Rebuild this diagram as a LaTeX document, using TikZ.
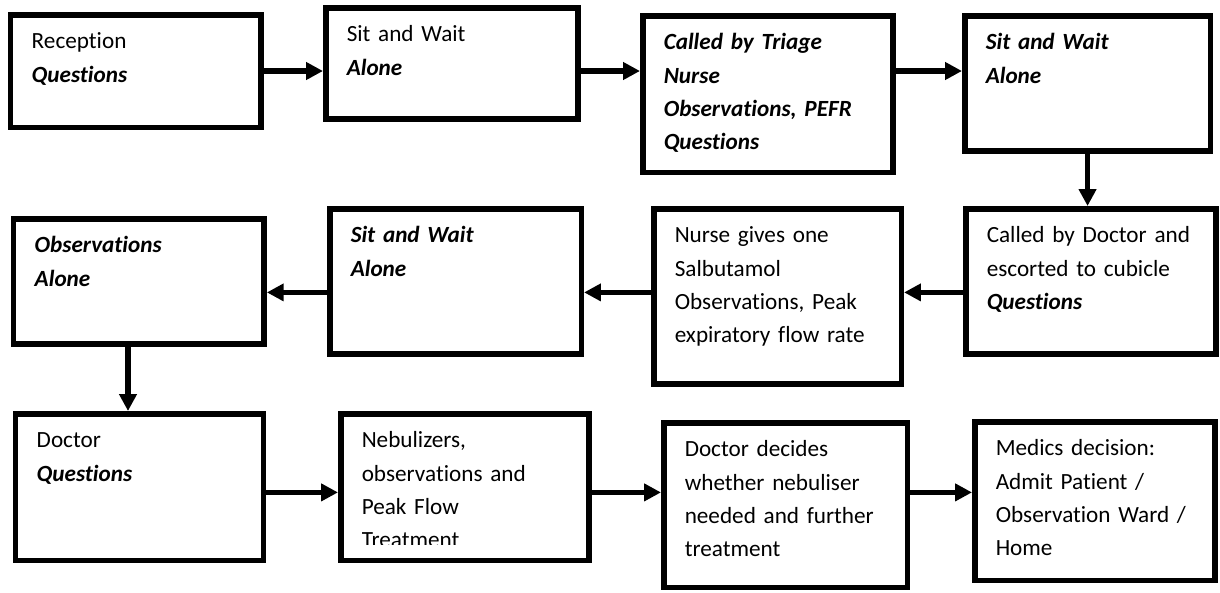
\documentclass[tikz,border=0pt]{standalone}
\usepackage{fontspec}
\setmainfont{Carlito}[Ligatures=NoCommon]
\usetikzlibrary{arrows.meta}
\newcommand{\bi}[1]{\textbf{\textit{#1}}}

\begin{document}
\begin{tikzpicture}[>={Triangle[length=0.42cm, width=0.42cm]},
      blk/.style={draw, line width=0.1375cm, anchor=north west, align=left,
        inner xsep=0.525cm, inner ysep=0pt, text height=0.856cm,
        font=\fontsize{16.5}{23.7}\selectfont},
      arr/.style={->, line width=0.13cm}]

    \useasboundingbox (0, 0) rectangle (30.5, -14.8);

    % row 1: left to right
    \node[blk, text width=5.21cm, text depth=1.96cm] (rec)    at (0.2, -0.3)     {Reception\\\bi{Questions}};
    \node[blk, text width=5.26cm, text depth=1.93cm] (sit1)   at (8.075, -0.125) {Sit and Wait\\\bi{Alone}};
    \node[blk, text width=5.21cm, text depth=3.06cm] (triage) at (16, -0.325)    {\bi{Called by Triage}\\\bi{Nurse}\\\bi{Observations, PEFR}\\\bi{Questions}};
    \node[blk, text width=5.09cm, text depth=2.53cm] (sit2)   at (24.05, -0.325) {\bi{Sit and Wait}\\\bi{Alone}};

    % row 2: right to left
    \node[blk, text width=5.21cm, text depth=2.78cm] (calldoc) at (24.075, -5.15) {Called by Doctor and\\escorted to cubicle\\\bi{Questions}};
    \node[blk, text width=5.14cm, text depth=3.53cm] (nurse)   at (16.275, -5.15) {Nurse gives one\\Salbutamol\\Observations, Peak\\expiratory flow rate};
    \node[blk, text width=5.24cm, text depth=2.78cm] (sit3)    at (8.175, -5.15)  {\bi{Sit and Wait}\\\bi{Alone}};
    \node[blk, text width=5.21cm, text depth=2.28cm] (obs)     at (0.275, -5.4)   {\bi{Observations}\\\bi{Alone}};

    % row 3: left to right
    \node[blk, text width=5.14cm, text depth=2.81cm] (doc) at (0.325, -10.275) {Doctor\\\bi{Questions}};
    \begin{scope}
      \clip (8, -9.5) rectangle (15.5, -13.62);
      \node[blk, text width=5.16cm, text depth=2.81cm] (neb) at (8.45, -10.275) {Nebulizers,\\observations and\\Peak Flow\\Treatment};
    \end{scope}
    % last line is cut off, put the frame back
    \draw[line width=0.1375cm] ([shift={(0.069, 0.069)}]neb.south west) rectangle ([shift={(-0.069, -0.069)}]neb.north east);
    \node[blk, text width=5.04cm, text depth=3.26cm] (decide) at (16.525, -10.5)  {Doctor decides\\whether nebuliser\\needed and further\\treatment};
    \node[blk, text width=4.96cm, text depth=3.11cm] (medics) at (24.3, -10.475)  {Medics decision:\\Admit Patient /\\Observation Ward /\\Home};

    \coordinate (row1) at (0, -1.775);
    \coordinate (row2) at (0, -7.31);
    \coordinate (row3) at (0, -12.31);
    \coordinate (col1) at (3.2, 0);

    \draw[arr] (rec.east |- row1)    -- (sit1.west |- row1);
    \draw[arr] (sit1.east |- row1)   -- (triage.west |- row1);
    \draw[arr] (triage.east |- row1) -- (sit2.west |- row1);
    \draw[arr] (sit2.south)          -- (calldoc.north -| sit2.south);
    \draw[arr] (calldoc.west |- row2) -- (nurse.east |- row2);
    \draw[arr] (nurse.west |- row2)   -- (sit3.east |- row2);
    \draw[arr] (sit3.west |- row2)    -- (obs.east |- row2);
    \draw[arr] (obs.south -| col1)    -- (doc.north -| col1);
    \draw[arr] (doc.east |- row3)    -- (neb.west |- row3);
    \draw[arr] (neb.east |- row3)    -- (decide.west |- row3);
    \draw[arr] (decide.east |- row3) -- (medics.west |- row3);

\end{tikzpicture}
\end{document}
